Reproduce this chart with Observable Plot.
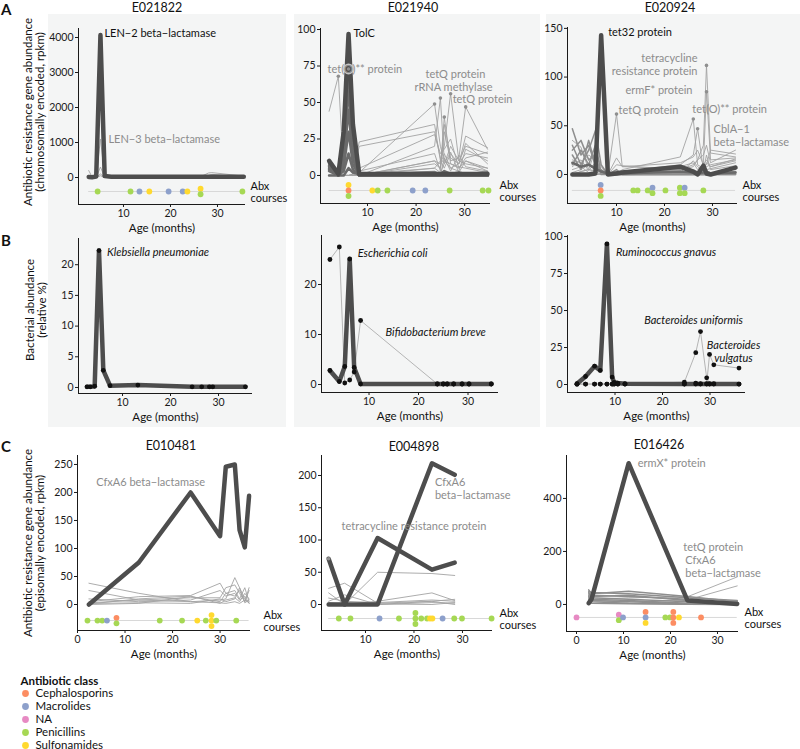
<!DOCTYPE html>
<html><head><meta charset="utf-8">
<script src="https://cdn.jsdelivr.net/npm/d3@7"></script>
<script src="https://cdn.jsdelivr.net/npm/@observablehq/plot@0.6"></script>
<style>
body{margin:0;background:#fff;}
#fig{position:relative;width:800px;height:749px;overflow:hidden;font-family:Lato,"Open Sans",sans-serif;color:#111;}
#fig svg{overflow:visible;}
.bg{position:absolute;background:#f4f5f5;}
.t{position:absolute;white-space:pre;line-height:1;}
</style></head>
<body><div id="fig"></div>
<script>
// ---------------- DATA ----------------
const CEPH="Cephalosporins", MACR="Macrolides", NA_="NA", PEN="Penicillins", SULF="Sulfonamides";
const abxClasses = [CEPH, MACR, NA_, PEN, SULF];
const abxColors = ["#fc8d62", "#8da0cb", "#e78ac3", "#a6d854", "#ffd92f"];

const subjectsTop = ["E021822", "E021940", "E020924"];
const subjectsBottom = ["E010481", "E004898", "E016426"];

// A1 — E021822 (chromosomal ARGs)
const monthsA1 = [2.6, 3.3, 4.2, 5.1, 6.0, 7.4, 13.2, 24.5, 26.5, 28.1, 28.8, 35.6];
const genesA1 = ["LEN−2 beta−lactamase", "LEN−3 beta−lactamase", "gene 3", "gene 4", "gene 5"];
const groupsA1 = ["top", "other", "other", "other", "other"];
const valuesA1 = [
  [15, 10, 30, 4070, 40, 25, 25, 20, 20, 25, 25, 20],
  [10, 5, 15, 1100, 25, 10, 10, 10, 15, 40, 60, 20],
  [200, 20, 5, 300, 10, 5, 10, 10, 30, 130, 140, 40],
  [60, 10, 5, 100, 5, 0, 5, 5, 20, 60, 90, 30],
  [5, 0, 0, 50, 0, 0, 0, 0, 10, 30, 40, 10]
];
const abxMonthsA1 = [4.5, 11.5, 13.4, 15.5, 19.6, 22.6, 23.6, 26.4, 26.4, 35.3];
const abxClassA1 = [PEN, PEN, MACR, SULF, MACR, MACR, SULF, SULF, PEN, PEN];

// A2 — E021940
const monthsA2 = [2.1, 4.0, 5.1, 6.1, 7.0, 8.3, 23.8, 25.0, 25.8, 27.1, 28.8, 30.2, 34.7];
const genesA2 = ["TolC", "tet(O)** protein", "f1", "f2", "f3", "f4", "f5", "f6", "f7", "f8",
  "tetQ protein", "rRNA methylase", "tetQ protein", "o1", "o2", "o3", "o4", "o5", "o6", "o7", "o8", "o9"];
const groupsA2 = ["top", "other", "assoc", "assoc", "assoc", "assoc", "assoc", "assoc", "assoc", "assoc",
  "other", "other", "other", "other", "other", "other", "other", "other", "other", "other", "other", "other"];
const valuesA2 = [
  [10, 1, 30, 97, 35, 1, 1, 1, 1, 1, 1, 1, 1],
  [44, 68, 2, 73, 5, 0, 0, 0, 0, 0, 0, 0, 0],
  [9, 0, 28, 92, 30, 0, 0, 0, 0, 0, 0, 0, 0],
  [8, 0, 25, 85, 28, 1, 1, 0, 0, 0, 0, 0, 0],
  [7, 0, 20, 75, 22, 0, 0, 0, 0, 0, 0, 0, 0],
  [6, 0, 15, 60, 18, 0, 0, 0, 0, 0, 0, 0, 0],
  [5, 0, 10, 45, 12, 0, 0, 0, 0, 0, 0, 0, 0],
  [4, 0, 6, 30, 8, 0, 0, 0, 0, 0, 0, 0, 0],
  [3, 0, 3, 15, 4, 0, 0, 0, 0, 0, 0, 0, 0],
  [0, 0, 0, 5, 2, 1, 2, 1, 3, 1, 2, 1, 2],
  [0, 0, 0, 0, 0, 0, 20, 53, 10, 5, 8, 15, 12],
  [0, 0, 0, 0, 0, 0, 5, 10, 20, 56, 10, 8, 5],
  [0, 0, 0, 0, 0, 0, 8, 5, 30, 10, 12, 47, 18],
  [0, 0, 0, 0, 0, 2, 49, 20, 10, 8, 5, 10, 3],
  [0, 0, 0, 0, 0, 0, 10, 5, 40, 8, 6, 5, 2],
  [0, 0, 0, 0, 1, 23, 35, 10, 5, 15, 8, 27, 19],
  [0, 0, 0, 0, 1, 20, 30, 12, 8, 20, 10, 20, 15],
  [0, 0, 0, 0, 0, 5, 28, 15, 18, 25, 5, 12, 16],
  [0, 0, 0, 0, 0, 3, 15, 3, 35, 12, 8, 22, 8],
  [0, 0, 0, 0, 0, 0, 10, 8, 15, 5, 3, 18, 10],
  [0, 0, 0, 0, 0, 1, 5, 2, 8, 16, 2, 10, 5],
  [0, 0, 0, 0, 0, 0, 3, 0, 12, 3, 14, 6, 3]
];
const abxMonthsA2 = [6.1, 6.1, 6.1, 11.0, 12.1, 14.1, 19.3, 21.9, 26.9, 33.7, 34.9];
const abxClassA2 = [SULF, CEPH, PEN, SULF, PEN, PEN, MACR, MACR, PEN, PEN, PEN];

// A3 — E020924
const monthsA3 = [0.8, 2.6, 4.2, 5.6, 6.8, 8.2, 10.0, 11.2, 23.3, 26.0, 26.9, 28.1, 28.75, 29.6, 34.8];
const genesA3 = ["tet32 protein", "tetQ protein", "tet(O)** protein", "gene 47", "tetracycline resistance protein",
  "ermF* protein", "CblA−1 beta−lactamase", "e1", "e2", "e3", "e4", "e5", "e6", "e7", "e8", "e9"];
const groupsA3 = ["top", "other", "other", "other", "other", "other", "other",
  "mid", "mid", "mid", "mid", "mid", "other", "other", "assoc", "other"];
const valuesA3 = [
  [0, 0, 0, 1, 143, 0, 1, 2, 8, 3, 0, 9, 1, 0, 7],
  [5, 8, 2, 3, 0, 0, 62, 8, 6, 4, 3, 3, 5, 6, 12],
  [0, 3, 5, 4, 2, 0, 0, 5, 18, 57, 10, 6, 8, 10, 15],
  [0, 0, 0, 0, 0, 0, 2, 3, 10, 20, 47, 5, 12, 8, 14],
  [2, 5, 10, 8, 3, 0, 0, 2, 5, 10, 15, 30, 112, 22, 18],
  [0, 3, 5, 3, 0, 0, 0, 3, 8, 12, 5, 10, 85, 15, 17],
  [0, 0, 0, 0, 0, 0, 0, 2, 5, 5, 3, 8, 10, 25, 21],
  [47, 20, 30, 10, 5, 0, 0, 1, 2, 2, 1, 2, 1, 1, 3],
  [25, 35, 15, 20, 0, 0, 0, 0, 1, 1, 0, 1, 0, 0, 1],
  [30, 10, 25, 45, 10, 0, 5, 0, 0, 0, 0, 0, 0, 0, 2],
  [20, 5, 35, 10, 3, 0, 0, 0, 0, 0, 0, 0, 0, 0, 0],
  [10, 25, 10, 30, 2, 0, 0, 0, 0, 0, 0, 0, 0, 0, 0],
  [15, 12, 20, 15, 4, 0, 17, 8, 12, 18, 25, 10, 15, 8, 16],
  [35, 28, 5, 25, 8, 0, 10, 9, 5, 8, 15, 20, 30, 12, 25],
  [12, 8, 10, 6, 3, 1, 2, 1, 3, 2, 1, 2, 3, 1, 2],
  [8, 15, 4, 12, 1, 0, 3, 4, 2, 14, 8, 4, 20, 5, 9]
];
const abxMonthsA3 = [6.7, 6.7, 6.7, 13.5, 14.4, 16.5, 17.5, 17.5, 20.2, 23.2, 23.2, 24.2, 24.2, 28.1];
const abxClassA3 = [MACR, CEPH, PEN, PEN, PEN, PEN, MACR, PEN, PEN, PEN, PEN, MACR, PEN, PEN];

// B — bacterial abundance (relative %)
const monthsB1 = [2.6, 3.3, 4.2, 5.1, 6.0, 7.4, 13.2, 24.5, 26.5, 28.1, 28.8, 35.6];
const taxaB1 = ["Klebsiella pneumoniae"];
const groupsB1 = ["top"];
const abundB1 = [[0.1, 0.1, 0.2, 22.3, 2.8, 0.3, 0.4, 0.1, 0.1, 0.1, 0.1, 0.1]];

const monthsB2 = [2.1, 4.0, 5.1, 6.1, 7.0, 8.3, 23.8, 25.0, 25.8, 27.1, 28.8, 30.2, 34.7];
const taxaB2 = ["Escherichia coli", "Bifidobacterium breve"];
const groupsB2 = ["top", "thin"];
const abundB2 = [
  [2.8, 0.6, 3.6, 25.1, 3.4, 0.1, 0.1, 0.1, 0.1, 0.1, 0.1, 0.1, 0.1],
  [25.0, 27.5, 0.3, 0.9, 2.5, 12.8, 0.1, 0.1, 0.1, 0.1, 0.1, 0.1, 0.1]
];

const monthsB3 = [2.0, 3.8, 5.7, 6.9, 8.3, 9.4, 9.8, 10.6, 12.1, 24.6, 27.0, 28.0, 29.3, 29.9, 30.8, 36.1];
const taxaB3 = ["Ruminococcus gnavus", "Bacteroides uniformis", "Bacteroides vulgatus"];
const groupsB3 = ["top", "thin", "thin"];
const abundB3 = [
  [0.5, 5.4, 12.4, 9.5, 95, 5, 1.5, 1, 0.5, 0.3, 0.3, 0.3, 0.3, 0.3, 0.3, 0.3],
  [0.2, 0.3, 0.3, 0.3, 0.3, 0.3, 0.3, 0.3, 0.3, 1.6, 21.5, 35.8, 4.5, 0.5, 0.5, 0.3],
  [0.2, 0.3, 0.3, 0.3, 0.3, 0.3, 0.3, 0.3, 0.3, 0.3, 1, 0.5, 0.5, 20.3, 13.3, 11.1]
];

// C1 — E010481 (episomal ARGs)
const monthsC1 = [2.4, 12.9, 23.8, 30.0, 31.2, 33.1, 34.1, 35.2, 36.1];
const genesC1 = ["CfxA6 beta−lactamase", "c1", "c2", "c3", "c4", "c5", "c6", "c7", "c8"];
const groupsC1 = ["top", "other", "other", "other", "other", "other", "other", "other", "other"];
const valuesC1 = [
  [0, 75, 200, 122, 246, 250, 133, 102, 194],
  [38, 20, 5, 8, 10, 48, 30, 10, 3],
  [5, 14, 16, 38, 20, 25, 10, 30, 5],
  [3, 8, 12, 12, 30, 35, 20, 5, 30],
  [10, 5, 8, 25, 15, 20, 8, 15, 2],
  [0, 2, 14, 5, 20, 15, 25, 5, 25],
  [2, 3, 2, 10, 5, 10, 30, 3, 8],
  [25, 8, 5, 3, 2, 5, 2, 8, 3],
  [1, 10, 15, 2, 8, 12, 5, 20, 10]
];
const abxMonthsC1 = [2.1, 4.2, 5.2, 6.2, 8.2, 8.2, 17.3, 22.0, 25.2, 27.0, 28.2, 28.2, 28.2, 29.2, 33.4];
const abxClassC1 = [PEN, PEN, PEN, MACR, CEPH, PEN, PEN, PEN, SULF, PEN, SULF, SULF, SULF, PEN, PEN];

// C2 — E004898
const monthsC2 = [2.4, 5.7, 12.5, 23.7, 28.4];
const genesC2 = ["CfxA6 beta−lactamase", "tetracycline resistance protein", "d1", "d2", "d3", "d4", "d5", "d6", "d7"];
const groupsC2 = ["top", "top", "other", "other", "other", "other", "other", "other", "other"];
const valuesC2 = [
  [0, 0, 0, 219, 201],
  [71, 0, 103, 54, 65],
  [0, 0, 50, 48, 45],
  [25, 33, 2, 5, 8],
  [18, 0, 5, 18, 6],
  [10, 5, 3, 7, 5],
  [5, 15, 0, 3, 2],
  [2, 2, 0, 5, 0],
  [3, 0, 1, 0, 3]
];
const abxMonthsC2 = [4.5, 6.9, 12.9, 16.9, 20.3, 20.3, 20.3, 21.5, 22.7, 23.3, 23.8, 25.9, 28.3, 29.9, 36.0];
const abxClassC2 = [PEN, PEN, MACR, PEN, PEN, PEN, PEN, PEN, PEN, SULF, SULF, MACR, PEN, PEN, PEN];

// C3 — E016426
const monthsC3 = [2.6, 3.2, 11.1, 23.6, 34.2];
const genesC3 = ["ermX* protein", "tetQ protein", "CfxA6 beta−lactamase", "h1", "h2", "h3", "h4", "h5", "h6", "h7", "h8", "h9"];
const groupsC3 = ["top", "other", "other", "mid", "mid", "mid", "mid", "mid", "mid", "mid", "mid", "mid"];
const valuesC3 = [
  [5, 20, 533, 15, 2],
  [30, 20, 25, 29, 104],
  [20, 15, 10, 17, 70],
  [55, 40, 50, 30, 10],
  [45, 35, 30, 20, 5],
  [40, 30, 35, 15, 3],
  [35, 25, 20, 10, 8],
  [30, 20, 15, 5, 12],
  [25, 15, 10, 3, 2],
  [20, 10, 5, 2, 1],
  [10, 5, 3, 1, 0],
  [50, 45, 40, 25, 15]
];
const abxMonthsC3 = [0, 9.0, 9.0, 9.9, 14.7, 14.7, 14.7, 18.9, 19.9, 20.6, 20.6, 20.6, 21.8, 26.5];
const abxClassC3 = [NA_, NA_, PEN, MACR, CEPH, MACR, SULF, PEN, PEN, CEPH, CEPH, CEPH, SULF, CEPH];

// ---------------- LAYOUT ----------------
const FONT = "Lato, 'Open Sans', sans-serif";
const GRAY = "#8c8c8c", BLACK = "#111";
const layout = {
  A1: {X0:78, X1:245, Y0:28, Y1:204, xd:[0.43,35.96], yd:[-771,4257], xt:[10,20,30], yt:[0,1000,2000,3000,4000], abxY:-400, abxDx:5},
  A2: {X0:320, X1:490, Y0:28, Y1:203, xd:[0.33,35.31], yd:[-19.2,100.7], xt:[10,20,30], yt:[0,25,50,75,100], abxY:-10.3, abxDx:9},
  A3: {X0:567, X1:737, Y0:27, Y1:203, xd:[-0.21,35.21], yd:[-29.8,150.9], xt:[10,20,30], yt:[0,50,100,150], abxY:-16.4, abxDx:5},
  B1: {X0:78, X1:252, Y0:238, Y1:393, xd:[0.83,37.08], yd:[-0.98,24.27], xt:[10,20,30], yt:[0,5,10,15,20]},
  B2: {X0:321, X1:498, Y0:235, Y1:392, xd:[0.4,36.16], yd:[-1.6,29.8], xt:[10,20,30], yt:[0,10,20]},
  B3: {X0:567, X1:745, Y0:235, Y1:392, xd:[0,37.47], yd:[-5.4,100.7], xt:[10,20,30], yt:[0,25,50,75,100]},
  C1: {X0:77, X1:250, Y0:455, Y1:630, xd:[0,36.4], yd:[-46.4,266], xt:[0,10,20,30], yt:[0,50,100,150,200,250], abxY:-28.6, abxDx:13},
  C2: {X0:321, X1:492, Y0:455, Y1:630, xd:[0.93,36.19], yd:[-40.3,231], xt:[10,20,30], yt:[0,50,100,150,200], abxY:-21.7, abxDx:7},
  C3: {X0:566, X1:738, Y0:455, Y1:631, xd:[-2.13,34.47], yd:[-102,562], xt:[0,10,20,30], yt:[0,200,400], abxY:-49, abxDx:6}
};
const lineStyle = {
  other: {stroke:"#a3a3a3", w:0.9},
  thin: {stroke:"#b5b5b5", w:1},
  mid: {stroke:"#8e8e8e", w:1.5},
  assoc: {stroke:"#6a6a6a", w:2.6},
  top: {stroke:"#4d4d4d", w:4.5}
};

const panels = {
  A1: {months:monthsA1, names:genesA1, groups:groupsA1, values:valuesA1, abxM:abxMonthsA1, abxC:abxClassA1,
       labels:[{gi:0, dx:4, dy:-2, color:BLACK}, {gi:1, i:3, dx:8, dy:0, color:GRAY}], dots:[]},
  A2: {months:monthsA2, names:genesA2, groups:groupsA2, values:valuesA2, abxM:abxMonthsA2, abxC:abxClassA2,
       labels:[{gi:0, dx:5, dy:-1, color:BLACK}, {gi:1, i:3, dx:-21, dy:0, color:GRAY},
               {gi:10, dx:15, dy:-24, anchor:"middle", color:GRAY}, {gi:11, dx:3, dy:-7, anchor:"middle", color:GRAY},
               {gi:12, dx:-13, dy:-8, color:GRAY}],
       dots:[{gi:1, i:3, ring:true}, {gi:1, i:1}, {gi:10}, {gi:11}, {gi:12}, {gi:13}, {gi:14}]},
  A3: {months:monthsA3, names:genesA3, groups:groupsA3, values:valuesA3, abxM:abxMonthsA3, abxC:abxClassA3,
       labels:[{gi:0, dx:7, dy:-3, color:BLACK}, {gi:1, dx:2, dy:-4, color:GRAY}, {gi:2, dx:-1, dy:-10, color:GRAY},
               {gi:4, text:"tetracycline\nresistance protein", dx:-9, dy:-1, anchor:"end", color:GRAY},
               {gi:5, dx:-14, dy:-2, anchor:"end", color:GRAY},
               {gi:6, text:"CblA−1\nbeta−lactamase", dx:3, dy:-15, color:GRAY}],
       dots:[{gi:1}, {gi:2}, {gi:3}, {gi:4}, {gi:5}]},
  B1: {taxa:true, months:monthsB1, names:taxaB1, groups:groupsB1, values:abundB1,
       labels:[{gi:0, dx:8, dy:1, color:BLACK, italic:true}]},
  B2: {taxa:true, months:monthsB2, names:taxaB2, groups:groupsB2, values:abundB2,
       labels:[{gi:0, dx:8, dy:-6, color:BLACK, italic:true}, {gi:1, i:5, dx:25, dy:11, color:BLACK, italic:true}]},
  B3: {taxa:true, months:monthsB3, names:taxaB3, groups:groupsB3, values:abundB3,
       labels:[{gi:0, dx:9, dy:8, color:BLACK, italic:true}, {gi:1, dx:-7, dy:-12, anchor:"middle", color:BLACK, italic:true},
               {gi:2, text:"Bacteroides\nvulgatus", dx:24, dy:-3, anchor:"middle", color:BLACK, italic:true}]},
  C1: {months:monthsC1, names:genesC1, groups:groupsC1, values:valuesC1, abxM:abxMonthsC1, abxC:abxClassC1,
       labels:[{gi:0, i:2, dx:-40, dy:-11, anchor:"middle", color:GRAY}], dots:[]},
  C2: {months:monthsC2, names:genesC2, groups:groupsC2, values:valuesC2, abxM:abxMonthsC2, abxC:abxClassC2,
       labels:[{gi:0, text:"CfxA6\nbeta−lactamase", dx:3, dy:25, color:GRAY}, {gi:1, dx:-36, dy:-12, color:GRAY}],
       dots:[{gi:1, i:0}]},
  C3: {months:monthsC3, names:genesC3, groups:groupsC3, values:valuesC3, abxM:abxMonthsC3, abxC:abxClassC3,
       labels:[{gi:0, dx:9, dy:0, color:GRAY}, {gi:1, dx:-54, dy:-30, color:GRAY},
               {gi:2, text:"CfxA6\nbeta−lactamase", dx:-52, dy:-20, color:GRAY}], dots:[]}
};

// ---------------- DRAW ----------------
const fig = document.getElementById("fig");
function addBox(x, y, w, h) {
  const d = document.createElement("div"); d.className = "bg";
  Object.assign(d.style, {left:x+"px", top:y+"px", width:w+"px", height:h+"px"});
  fig.appendChild(d);
}
function addText(txt, x, y, o = {}) {
  const d = document.createElement("div"); d.className = "t"; d.textContent = txt;
  const tx = o.anchor === "start" ? "0" : "-50%";
  Object.assign(d.style, {left:x+"px", top:y+"px", fontSize:(o.size||11)+"px", fontWeight:o.weight||"normal",
    color:o.color||"#111", textAlign:"center", lineHeight:(o.lh||1)+"", transform:`translate(${tx},-50%)`});
  if (o.rot) d.style.transform = "translate(-50%,-50%) rotate(-90deg)";
  fig.appendChild(d);
}

addBox(48, 14, 238, 413);
addBox(294, 14, 246, 413);
addBox(546, 14, 254, 413);

function stackAbx(months, classes, baseY, step) {
  const items = months.map((m, i) => ({m, c: classes[i]}));
  const out = [];
  for (const [m, arr] of d3.groups(items, d => d.m)) {
    arr.forEach((d, k) => out.push({x: m, cls: d.c, y: baseY + ((arr.length - 1) / 2 - k) * step}));
  }
  return out;
}

function drawPanel(key) {
  const L = layout[key], d = panels[key];
  const ml = 48, mr = 90, mt = 14, mb = 40;
  const W = ml + (L.X1 - L.X0) + mr, H = mt + (L.Y1 - L.Y0) + mb;
  const pxPerY = (L.Y1 - L.Y0) / (L.yd[1] - L.yd[0]);
  const rows = [];
  d.names.forEach((g, gi) => d.months.forEach((m, i) =>
    rows.push({gi, name: g, group: d.groups[gi], x: m, y: d.values[gi][i]})));
  const marks = [];
  if (d.abxM) {
    const ab = stackAbx(d.abxM, d.abxC, L.abxY, 5.5 / pxPerY);
    const allX = d.months.concat(d.abxM);
    marks.push(Plot.ruleY([L.abxY], {x1: d3.min(allX), x2: d3.max(allX), stroke: "#d8d8d8", strokeWidth: 1}));
    marks.push(Plot.dot(ab, {x: "x", y: "y", fill: "cls", r: 2.9}));
    marks.push(Plot.text(["Abx\ncourses"], {x: L.xd[1], y: L.abxY, dx: L.abxDx, dy: 1, textAnchor: "start",
      lineAnchor: "middle", fontSize: 11, lineHeight: 1.05, fill: "#111"}));
  }
  for (const grp of ["other", "thin", "mid", "assoc", "top"]) {
    const s = lineStyle[grp];
    const sub = rows.filter(r => r.group === grp);
    if (sub.length) marks.push(Plot.line(sub, {x: "x", y: "y", z: "gi", stroke: s.stroke, strokeWidth: s.w,
      strokeLinejoin: "round", strokeLinecap: "round"}));
  }
  if (d.taxa) marks.push(Plot.dot(rows, {x: "x", y: "y", r: 2.4, fill: "#111"}));
  const dotPts = (d.dots || []).map(s => {
    const v = d.values[s.gi]; const i = s.i ?? d3.maxIndex(v);
    return {x: d.months[i], y: v[i], ring: !!s.ring};
  });
  if (dotPts.length) {
    marks.push(Plot.dot(dotPts.filter(p => p.ring), {x: "x", y: "y", r: 4.5, fill: "none", stroke: "#c4c4c4", strokeWidth: 2}));
    marks.push(Plot.dot(dotPts, {x: "x", y: "y", r: 1.8, fill: "#8f8f8f"}));
  }
  for (const lab of d.labels) {
    const v = d.values[lab.gi]; const i = lab.i ?? d3.maxIndex(v);
    const pt = {x: d.months[i], y: v[i], t: lab.text ?? d.names[lab.gi]};
    marks.push(Plot.text([pt], {x: "x", y: "y", text: "t", dx: lab.dx, dy: lab.dy, textAnchor: lab.anchor || "start",
      lineAnchor: "middle", fill: lab.color, fontStyle: lab.italic ? "italic" : "normal", fontSize: 11, lineHeight: 1.22}));
  }
  marks.push(Plot.ruleX([L.xd[0]], {stroke: "#1a1a1a", strokeWidth: 1}));
  marks.push(Plot.ruleY([L.yd[0]], {stroke: "#1a1a1a", strokeWidth: 1}));
  marks.push(Plot.axisX({ticks: L.xt, tickSize: 3, tickPadding: 2, label: null, tickFormat: t => String(t), fontSize: 10.5}));
  marks.push(Plot.axisY({ticks: L.yt, tickSize: 3, tickPadding: 2, label: null, tickFormat: t => String(t), fontSize: 10.5}));
  marks.push(Plot.text(["Age (months)"], {frameAnchor: "bottom", dy: 24, lineAnchor: "middle", fontSize: 11.5, fill: "#111"}));

  const svg = Plot.plot({
    width: W, height: H, marginLeft: ml, marginRight: mr, marginTop: mt, marginBottom: mb,
    x: {domain: L.xd}, y: {domain: L.yd},
    color: {domain: abxClasses, range: abxColors},
    style: {background: "transparent", fontFamily: FONT, fontSize: "10.5px", color: "#1a1a1a", overflow: "visible"},
    marks
  });
  Object.assign(svg.style, {position: "absolute", left: (L.X0 - ml) + "px", top: (L.Y0 - mt) + "px"});
  fig.appendChild(svg);
}

["A1","A2","A3","B1","B2","B3","C1","C2","C3"].forEach(drawPanel);

// titles, letters, y-axis titles
addText(subjectsTop[0], 157, 8, {size: 12.5});
addText(subjectsTop[1], 413, 8, {size: 12.5});
addText(subjectsTop[2], 670, 8, {size: 12.5});
addText(subjectsBottom[0], 171, 446, {size: 12.5});
addText(subjectsBottom[1], 414, 447, {size: 12.5});
addText(subjectsBottom[2], 659, 445, {size: 12.5});
addText("A", 1, 9, {size: 15, weight: "bold", anchor: "start"});
addText("B", 1, 240, {size: 15, weight: "bold", anchor: "start"});
addText("C", 1, 446, {size: 15, weight: "bold", anchor: "start"});
addText("Antibiotic resistance gene abundance\n(chromosomally encoded, rpkm)", 32.5, 112, {size: 11.5, lh: 1.0, rot: true});
addText("Bacterial abundance\n(relative %)", 36, 310, {size: 11.5, lh: 1.05, rot: true});
addText("Antibiotic resistance gene abundance\n(episomally encoded, rpkm)", 32.5, 543, {size: 11.5, lh: 1.0, rot: true});

// legend
const legend = Plot.plot({
  width: 200, height: 80, margin: 0,
  x: {domain: [0, 1], range: [25, 125], axis: null},
  y: {type: "point", domain: abxClasses, range: [18, 71], padding: 0, axis: null},
  color: {domain: abxClasses, range: abxColors},
  style: {background: "transparent", fontFamily: FONT, fontSize: "11px", color: "#111", overflow: "visible"},
  marks: [
    Plot.dot(abxClasses, {x: 0, y: d => d, fill: d => d, r: 3.4}),
    Plot.text(abxClasses, {x: 0, y: d => d, text: d => d, dx: 10, textAnchor: "start", fontSize: 11.5, fill: "#111"}),
    Plot.text(["Antibiotic class"], {frameAnchor: "top-left", dx: 20, dy: 7, textAnchor: "start", lineAnchor: "middle",
      fontWeight: "bold", fontSize: 11.5, fill: "#111"})
  ]
});
Object.assign(legend.style, {position: "absolute", left: "0px", top: "674px"});
fig.appendChild(legend);
</script>
</body></html>
